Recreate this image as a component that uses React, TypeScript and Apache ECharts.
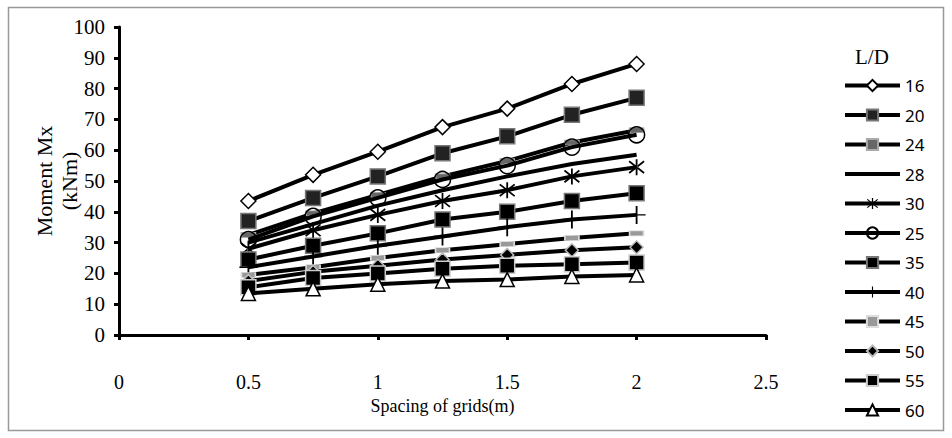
import React, { useEffect, useRef } from "react";
import * as echarts from "echarts";

const spacing = [0.5, 0.75, 1, 1.25, 1.5, 1.75, 2];
const xTicks = [0, 0.5, 1, 1.5, 2, 2.5];
const yTicks = [0, 10, 20, 30, 40, 50, 60, 70, 80, 90, 100];
const names = ["16", "20", "24", "28", "30", "25", "35", "40", "45", "50", "55", "60"];
const s16 = [43.5, 52, 59.5, 67.5, 73.5, 81.5, 88];
const s20 = [37, 44.5, 51.5, 59, 64.5, 71.5, 77];
const s24 = [32.5, 39.5, 45.5, 51.5, 56.5, 62.5, 66.5];
const s28 = [30, 36, 42, 47, 51.5, 55.5, 58.5];
const s30 = [28, 34, 39, 43.5, 47, 51.5, 54.5];
const s25 = [31, 38.5, 44.5, 50.5, 55, 61, 65];
const s35 = [24.5, 29, 33, 37.5, 40, 43.5, 46];
const s40 = [22, 25.5, 29, 32, 35, 37.5, 39];
const s45 = [19.5, 22, 25, 27.5, 29.5, 31.5, 33];
const s50 = [17.5, 20.5, 22.5, 24.5, 26, 27.5, 28.5];
const s55 = [15.5, 18.5, 20, 21.5, 22.5, 23, 23.5];
const s60 = [13.5, 15, 16.5, 17.5, 18, 19, 19.5];
const values = [s16, s20, s24, s28, s30, s25, s35, s40, s45, s50, s55, s60];

const ASTER =
  "path://M9,0h2v20h-2z M1,3.5 L2.2,1.8 L19,16.5 L17.8,18.2z M1,16.5 L2.2,18.2 L19,3.5 L17.8,1.8z";
const PLUS = "path://M9.2,0h1.6v20h-1.6z M2,9.2h16v1.6h-16z";

const markerStyles: any[] = [
  { symbol: "diamond", size: 15, item: { color: "#fff", borderColor: "#000", borderWidth: 1.5 } },
  { symbol: "rect", size: 15, item: { color: "#222", borderColor: "#777", borderWidth: 1.5 } },
  { symbol: "rect", size: [14, 5], item: { color: "#666", borderColor: "#aaa", borderWidth: 1 } },
  { symbol: "circle", size: 1, show: false, item: { color: "rgba(0,0,0,0)", borderWidth: 0 } },
  { symbol: ASTER, size: 16, item: { color: "#000", borderWidth: 0 } },
  { symbol: "circle", size: 16, item: { color: "rgba(255,255,255,0)", borderColor: "#000", borderWidth: 1.5 } },
  { symbol: "rect", size: 15, item: { color: "#000", borderColor: "#777", borderWidth: 1.5 } },
  { symbol: PLUS, size: 18, item: { color: "#000", borderWidth: 0 } },
  { symbol: "rect", size: [14, 5], item: { color: "#999", borderColor: "#ddd", borderWidth: 1 } },
  { symbol: "diamond", size: 13, item: { color: "#000", borderColor: "#bbb", borderWidth: 1.5 } },
  { symbol: "rect", size: 15, item: { color: "#000", borderColor: "#ccc", borderWidth: 1.5 } },
  { symbol: "triangle", size: 14, item: { color: "#fff", borderColor: "#000", borderWidth: 1.5 } },
];

export default function App() {
  const ref = useRef<HTMLDivElement>(null);
  useEffect(() => {
    if (!ref.current) return;
    const chart = echarts.init(ref.current, undefined, { renderer: "svg" });
    const series = names.map((n, i) => ({
      name: n,
      type: "line",
      data: spacing.map((x, j) => [x, values[i][j]]),
      symbol: markerStyles[i].symbol,
      symbolSize: markerStyles[i].size,
      showSymbol: markerStyles[i].show !== false,
      lineStyle: { color: "#000", width: 4 },
      itemStyle: markerStyles[i].item,
      z: 2 + i,
    }));
    chart.setOption({
      animation: false,
      backgroundColor: "#fff",
      grid: { left: 119, right: 186, top: 27, bottom: 103 },
      xAxis: {
        type: "value",
        min: 0,
        max: 2.5,
        interval: 0.5,
        name: "Spacing of grids(m)",
        nameLocation: "middle",
        nameGap: 62,
        nameMoveOverlap: false,
        nameTextStyle: { fontFamily: "Liberation Serif", fontSize: 18, color: "#000", verticalAlign: "top" },
        axisLine: { show: true, lineStyle: { color: "#000", width: 3 } },
        axisTick: { show: true, length: 5, lineStyle: { color: "#000", width: 3 } },
        axisLabel: {
          fontFamily: "Liberation Serif",
          fontSize: 20,
          color: "#000",
          margin: 37,
          formatter: (v: number) => String(v),
        },
        splitLine: { show: false },
      },
      yAxis: {
        type: "value",
        min: 0,
        max: 100,
        interval: 10,
        name: "Moment Mx\n(kNm)",
        nameLocation: "middle",
        nameGap: 62,
        nameMoveOverlap: false,
        nameRotate: 90,
        nameTextStyle: {
          fontFamily: "Liberation Serif",
          fontSize: 22,
          color: "#000",
          lineHeight: 25,
          verticalAlign: "middle",
        },
        axisLine: { show: true, lineStyle: { color: "#000", width: 3 } },
        axisTick: { show: true, length: 5, lineStyle: { color: "#000", width: 3 } },
        axisLabel: { fontFamily: "Liberation Serif", fontSize: 21, color: "#000", margin: 14 },
        splitLine: { show: false },
      },
      legend: {
        orient: "vertical",
        left: 843,
        top: 77,
        height: 400,
        padding: 0,
        itemWidth: 55,
        itemHeight: 14,
        itemGap: 12.5,
        lineStyle: { width: 4 },
        textStyle: { fontFamily: "Noto Sans", fontSize: 17, color: "#000" },
        data: names,
      },
      graphic: [
        {
          type: "rect",
          shape: { x: 8.5, y: 7.5, width: 935, height: 423 },
          style: { fill: "none", stroke: "#999", lineWidth: 1.5 },
          silent: true,
          z: -1,
        },
        {
          type: "text",
          left: 855,
          top: 46,
          style: { text: "L/D", font: "21px 'Liberation Serif'", fill: "#000" },
        },
      ],
      series,
    });
    return () => chart.dispose();
  }, []);
  return (
    <div
      ref={ref}
      style={{ position: "fixed", left: 0, top: 0, width: 952, height: 438 }}
    />
  );
}
